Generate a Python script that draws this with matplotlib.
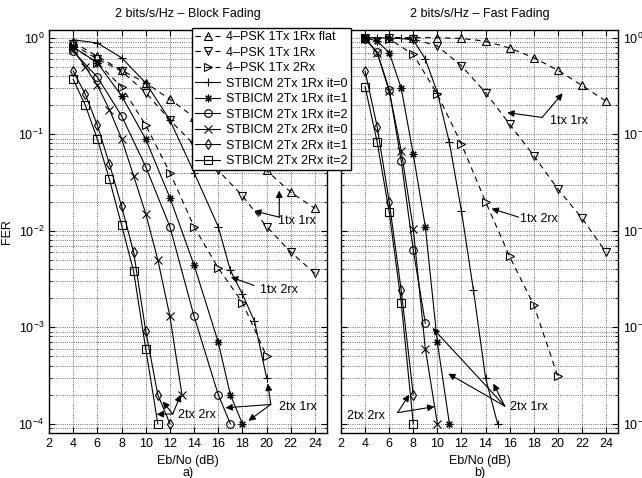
import matplotlib
matplotlib.use("Agg")
import matplotlib.pyplot as plt
from matplotlib.ticker import LogLocator, NullFormatter

plt.rcParams["font.family"] = ["Liberation Sans", "DejaVu Sans"]
plt.rcParams["font.size"] = 9
plt.rcParams["mathtext.default"] = "regular"

# ---- block fading (panel a) ----
b_x11 = [4, 6, 8, 10, 12, 14, 16, 18, 20, 22, 24]
b_flat = [0.9, 0.64, 0.46, 0.34, 0.23, 0.15, 0.095, 0.062, 0.042, 0.025, 0.017]
b_1x1 = [0.85, 0.6, 0.45, 0.27, 0.14, 0.078, 0.042, 0.023, 0.011, 0.006, 0.0036]
b_x12 = [4, 6, 8, 10, 12, 14, 16, 18, 20]
b_1x2 = [0.8, 0.55, 0.31, 0.124, 0.04, 0.011, 0.0041, 0.0018, 0.0005]
b_x_r1i0 = [4, 6, 8, 10, 12, 14, 16, 17, 18, 19, 20]
b_r1i0 = [0.95, 0.88, 0.62, 0.34, 0.14, 0.04, 0.011, 0.0039, 0.0022, 0.00115, 0.0003]
b_x_r1i1 = [4, 6, 8, 10, 12, 14, 16, 17, 18]
b_r1i1 = [0.8, 0.55, 0.25, 0.089, 0.022, 0.0044, 0.0007, 0.0002, 0.0001]
b_x_r1i2 = [4, 6, 8, 10, 12, 14, 16, 17]
b_r1i2 = [0.72, 0.39, 0.155, 0.046, 0.011, 0.0013, 0.0002, 0.0001]
b_x_r2i0 = [4, 5, 6, 7, 8, 9, 10, 11, 12, 13]
b_r2i0 = [0.75, 0.5, 0.32, 0.18, 0.09, 0.037, 0.015, 0.005, 0.0013, 0.0002]
b_x_r2i1 = [4, 5, 6, 7, 8, 9, 10, 11, 12]
b_r2i1 = [0.45, 0.26, 0.124, 0.049, 0.018, 0.006, 0.00092, 0.0002, 0.0001]
b_x_r2i2 = [4, 5, 6, 7, 8, 9, 10, 11]
b_r2i2 = [0.37, 0.2, 0.089, 0.034, 0.0115, 0.0038, 0.0006, 0.0001]

# ---- fast fading (panel b) ----
f_x11 = [4, 6, 8, 10, 12, 14, 16, 18, 20, 22, 24]
f_flat = [1.0, 1.0, 1.0, 1.0, 0.98, 0.92, 0.78, 0.62, 0.46, 0.32, 0.22]
f_1x1 = [1.0, 1.0, 0.97, 0.82, 0.51, 0.27, 0.127, 0.06, 0.027, 0.0135, 0.006]
f_x12 = [4, 6, 8, 10, 12, 14, 16, 18, 20]
f_1x2 = [1.0, 0.97, 0.67, 0.26, 0.079, 0.02, 0.0054, 0.0017, 0.00031]
f_x_r1i0 = [4, 5, 6, 7, 8, 9, 10, 11, 12, 13, 14, 15]
f_r1i0 = [1.0, 1.0, 0.99, 0.98, 0.95, 0.6, 0.27, 0.082, 0.016, 0.0024, 0.0003, 0.0001]
f_x_r1i1 = [4, 5, 6, 7, 8, 9, 10, 11]
f_r1i1 = [1.0, 0.92, 0.7, 0.3, 0.062, 0.011, 0.0007, 0.0001]
f_x_r1i2 = [4, 5, 6, 7, 8, 9]
f_r1i2 = [0.97, 0.71, 0.29, 0.053, 0.0063, 0.0011]
f_x_r2i0 = [4, 5, 6, 7, 8, 9, 10]
f_r2i0 = [0.97, 0.7, 0.28, 0.067, 0.0105, 0.0006, 0.0001]
f_x_r2i1 = [4, 5, 6, 7, 8]
f_r2i1 = [0.45, 0.12, 0.02, 0.0024, 0.0002]
f_x_r2i2 = [4, 5, 6, 7, 8]
f_r2i2 = [0.31, 0.083, 0.0156, 0.0018, 0.0001]

labels = ["4–PSK 1Tx 1Rx flat", "4–PSK 1Tx 1Rx", "4–PSK 1Tx 2Rx",
          "STBICM 2Tx 1Rx it=0", "STBICM 2Tx 1Rx it=1", "STBICM 2Tx 1Rx it=2",
          "STBICM 2Tx 2Rx it=0", "STBICM 2Tx 2Rx it=1", "STBICM 2Tx 2Rx it=2"]
markers = ["^", "v", ">", "+", (8, 2, 0), "o", "x", "d", "s"]
styles = ["--", "--", "--", "-", "-", "-", "-", "-", "-"]

block = [(b_x11, b_flat), (b_x11, b_1x1), (b_x12, b_1x2),
         (b_x_r1i0, b_r1i0), (b_x_r1i1, b_r1i1), (b_x_r1i2, b_r1i2),
         (b_x_r2i0, b_r2i0), (b_x_r2i1, b_r2i1), (b_x_r2i2, b_r2i2)]
fast = [(f_x11, f_flat), (f_x11, f_1x1), (f_x12, f_1x2),
        (f_x_r1i0, f_r1i0), (f_x_r1i1, f_r1i1), (f_x_r1i2, f_r1i2),
        (f_x_r2i0, f_r2i0), (f_x_r2i1, f_r2i1), (f_x_r2i2, f_r2i2)]

# annotation: text, text position, corner, arrow tips
block_notes = [
    ("1tx 1rx", (22.5, 0.0127), (21.05, 0.0138), [(21.05, 0.026), (18.97, 0.016)]),
    ("1tx 2rx", (21.0, 0.0024), (18.97, 0.0027), [(17.05, 0.0033)]),
    ("2tx 1rx", (22.6, 0.00015), (20.35, 0.000158), [(20.1, 0.00026), (16.6, 0.000146), (18.5, 0.000107)]),
    ("2tx 2rx", (14.2, 0.000124), (12.24, 0.000126), [(12.9, 0.0002), (11.4, 0.00017), (10.9, 0.000125)]),
]
fast_notes = [
    ("1tx 1rx", (20.9, 0.136), (18.7, 0.149), [(20.4, 0.265), (15.8, 0.167)]),
    ("1tx 2rx", (18.45, 0.0133), (16.75, 0.0138), [(14.5, 0.0169)]),
    ("2tx 1rx", (17.6, 0.000148), (15.6, 0.000152), [(9.6, 0.00098), (10.9, 0.00033), (14.65, 0.00026)]),
    ("2tx 2rx", (4.1, 0.00012), (6.7, 0.00013), [(7.67, 0.0002), (9.76, 0.00015)]),
]

fig = plt.figure(figsize=(6.42, 4.78), dpi=100)
ax1 = fig.add_axes([49 / 642, 45 / 478, 278 / 642, 403 / 478])
ax2 = fig.add_axes([341 / 642, 45 / 478, 277 / 642, 403 / 478])

handles = []
for ax, data, notes, title, tag in [(ax1, block, block_notes, "2 bits/s/Hz – Block Fading", "a)"),
                                    (ax2, fast, fast_notes, "2 bits/s/Hz – Fast Fading", "b)")]:
    hs = []
    for (x, y), m, ls in zip(data, markers, styles):
        h, = ax.plot(x, y, color="k", linestyle=ls, linewidth=0.8, marker=m,
                     markersize=5.5, markerfacecolor="none", markeredgecolor="k",
                     markeredgewidth=0.8, dashes=(5, 4) if ls == "--" else (None, None))
        hs.append(h)
    handles = hs
    ax.set_yscale("log")
    ax.set_xlim(2, 25)
    ax.set_ylim(8e-5, 1.2)
    ax.set_xticks(range(2, 25, 2))
    ax.yaxis.set_major_locator(LogLocator(base=10, numticks=10))
    ax.yaxis.set_minor_locator(LogLocator(base=10, subs=range(2, 10), numticks=20))
    ax.yaxis.set_minor_formatter(NullFormatter())
    ax.grid(True, which="major", linestyle=":", color="0.25", linewidth=0.6)
    ax.grid(True, which="minor", axis="y", linestyle=":", color="0.25", linewidth=0.6)
    ax.tick_params(which="both", direction="in", top=True, right=True, left=True)
    ax.tick_params(which="major", length=4, labelsize=9)
    ax.tick_params(which="minor", length=2)
    for s in ax.spines.values():
        s.set_linewidth(1.0)
    ax.set_title(title, fontsize=9, pad=9)
    ax.set_xlabel("Eb/No (dB)", fontsize=9, labelpad=4)
    ax.text(0.5, -0.1, tag, transform=ax.transAxes, ha="center", va="center", fontsize=9)
    ax.set_ylabel("FER", fontsize=9)
    for txt, tpos, corner, tips in notes:
        ax.text(tpos[0], tpos[1], txt, ha="center", va="center", fontsize=9)
        for tip in tips:
            ax.annotate("", xy=tip, xytext=corner,
                        arrowprops=dict(arrowstyle="-|>", color="k", lw=0.8,
                                        mutation_scale=10, shrinkA=0, shrinkB=0))

ax1.yaxis.set_label_coords(-0.13, 0.5)
ax2.tick_params(which="both", labelleft=False, labelright=True)
ax2.yaxis.set_label_position("right")
ax2.yaxis.set_label_coords(1.11, 0.5)

leg = fig.legend(handles, labels, loc="upper left",
                 bbox_to_anchor=(192 / 642, 1 - 28 / 478), fontsize=9,
                 frameon=True, fancybox=False, framealpha=1, edgecolor="k",
                 borderpad=0.25, labelspacing=0.28, handlelength=2.0,
                 handletextpad=0.5, borderaxespad=0)
leg.get_frame().set_linewidth(1.0)

fig.savefig("out.png", dpi=100)
